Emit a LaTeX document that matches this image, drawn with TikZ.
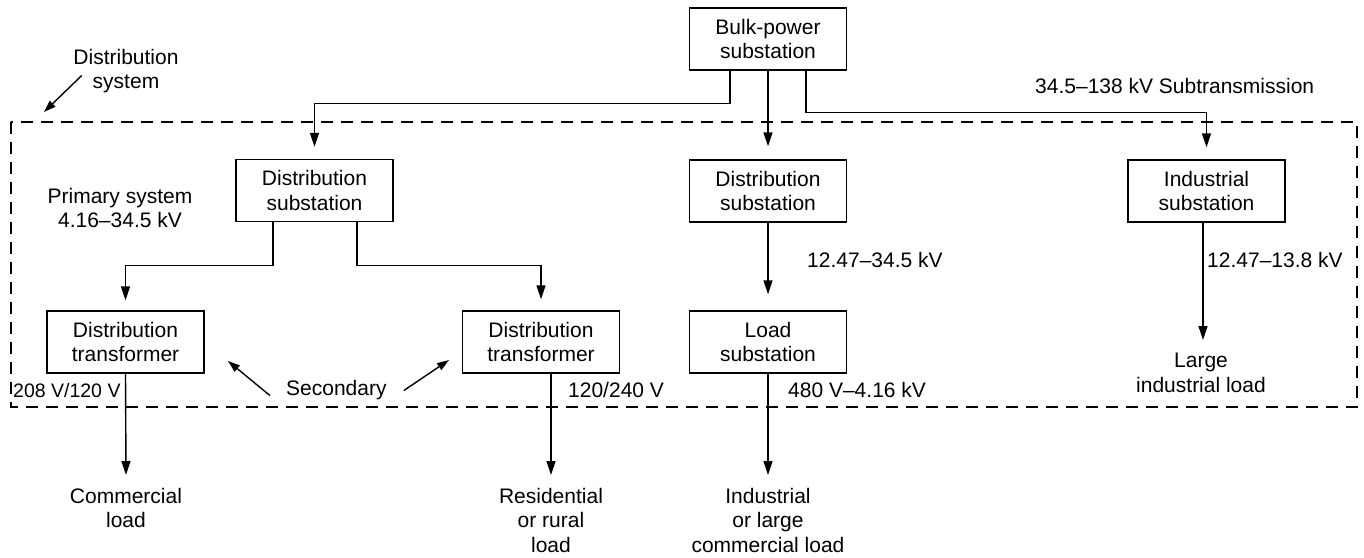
\documentclass[tikz,border=0pt]{standalone}
\usepackage{fontspec}
\setmainfont{Liberation Sans}
\usetikzlibrary{arrows.meta}
\tikzset{
  box/.style={draw, line width=1.4pt, minimum width=157pt, minimum height=62pt, inner sep=0pt, align=center},
  lbl/.style={inner sep=0pt, align=center},
  arr/.style={line width=1.4pt, -{Triangle[length=14pt,width=9pt]}},
  sarr/.style={line width=1.4pt, -{Triangle[length=12pt,width=8pt]}},
  sysbox/.style={line width=1.4pt, dash pattern=on 12pt off 8pt}
}
\begin{document}
\begin{tikzpicture}[x=1pt,y=-1pt,font=\fontsize{21}{24.5}\selectfont]
\useasboundingbox (0,0) rectangle (1364,557);
% system boundary
\draw[sysbox] (11,122) rectangle (1357,407);
% boxes
\node[box] (bulk) at (768,39) {Bulk-power\\substation};
\node[box] (ds1) at (314.5,190.5) {Distribution\\substation};
\node[box] (ds2) at (768,191) {Distribution\\substation};
\node[box] (is) at (1206.5,191) {Industrial\\substation};
\node[box] (dt1) at (125.5,342) {Distribution\\transformer};
\node[box] (dt2) at (541,342) {Distribution\\transformer};
\node[box] (ls) at (768,342) {Load\\substation};
% load texts
\node[lbl, anchor=north] (cl) at (126,488) {Commercial\\load};
\node[lbl, anchor=north] (rl) at (551,488) {Residential\\or rural\\load};
\node[lbl, anchor=north] (il) at (768,488) {Industrial\\or large\\commercial load};
\node[lbl, anchor=north] (lil) at (1201,353) {Large\\industrial load};
% other labels
\node[lbl, anchor=north] (distsys) at (126,49) {Distribution\\system};
\node[lbl, anchor=north, font=\fontsize{21}{24}\selectfont] (prim) at (120,188) {Primary system\\4.16--34.5 kV};
\node[lbl, anchor=base west] (sub) at (1035,93) {34.5--138 kV Subtransmission};
\node[lbl, anchor=base west] (v1) at (807,267) {12.47--34.5 kV};
\node[lbl, anchor=base west] (v2) at (1207,267) {12.47--13.8 kV};
\node[lbl, anchor=base west, font=\fontsize{19.5}{24}\selectfont] (v3) at (13,397) {208 V/120 V};
\node[lbl, anchor=base west] (v4) at (568,397) {120/240 V};
\node[lbl, anchor=base west] (v5) at (788,397) {480 V--4.16 kV};
\node[lbl, anchor=base west] (sec) at (286,395) {Secondary};
% free arrow ends
\coordinate (s1) at (228,361);
\coordinate (s2) at (449,360);
\coordinate (dtip) at (44,112);
% connectors from bulk
\draw[arr] ([xshift=-38pt]bulk.south) -- ++(0,33) -| ([yshift=12pt]ds1.north);
\draw[arr] (bulk.south) -- ([yshift=13pt]ds2.north);
\draw[arr] ([xshift=38pt]bulk.south) -- ++(0,42) -| ([yshift=12pt]is.north);
% from distribution substation 1
\draw[arr] ([xshift=-41.5pt]ds1.south) -- ++(0,43) -| ([yshift=10pt]dt1.north);
\draw[arr] ([xshift=42.5pt]ds1.south) -- ++(0,43) -| ([yshift=11pt]dt2.north);
% middle and right chains
\draw[arr] (ds2.south) -- ([yshift=16pt]ls.north);
\draw[arr] ([xshift=-3.5pt]is.south) -- ([xshift=-3.5pt,yshift=13pt]is.south |- lil.north);
% to loads
\draw[arr] (dt1.south) -- ([yshift=13pt]cl.north);
\draw[arr] ([xshift=10pt]dt2.south) -- ([yshift=13pt]rl.north);
\draw[arr] (ls.south) -- ([yshift=13pt]il.north);
% secondary arrows
\draw[sarr] ([shift={(-16pt,-6pt)}]sec.west) -- (s1);
\draw[sarr] ([shift={(17pt,-1pt)}]sec.east) -- (s2);
% distribution system pointer
\draw[sarr] ([shift={(8.5pt,18pt)}]distsys.south west) -- (dtip);
\end{tikzpicture}
\end{document}
